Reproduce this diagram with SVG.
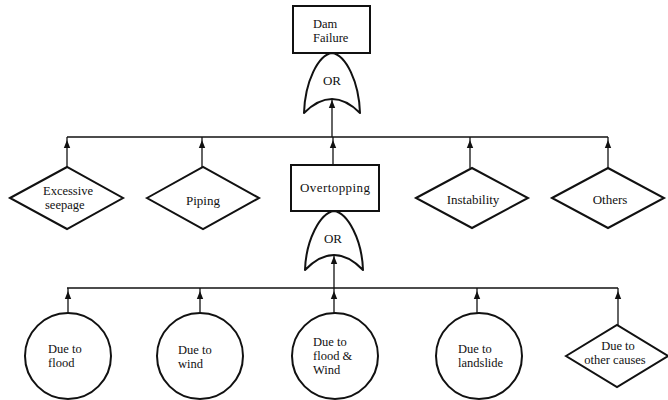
<svg xmlns="http://www.w3.org/2000/svg" width="668" height="400" viewBox="0 0 668 400" font-family="'Liberation Serif', serif">
  <style>
    .shape { fill: #fff; stroke: #111; stroke-width: 2; stroke-linejoin: miter; }
    .gate { fill: #fff; stroke: #111; stroke-width: 2; stroke-linejoin: round; }
    .wire { fill: none; stroke: #111; stroke-width: 1.3; }
    .lbl { font-family: 'Liberation Serif', serif; font-size: 13px; fill: #111; }
    .ml { font-size: 12.5px; }
    .c { text-anchor: middle; }
  </style>
  <defs>
    <marker id="arrow" viewBox="0 0 12 8" refX="12" refY="4" markerWidth="12" markerHeight="8" markerUnits="userSpaceOnUse" orient="auto">
      <path d="M1,0.8 L9,4 L1,7.2 z" fill="#111"/>
    </marker>
  </defs>
  <rect width="668" height="400" fill="#fff"/>

  <!-- connectors -->
  <g id="connectors">
    <path class="wire" d="M67,137 H608"/>
    <path class="wire" d="M67,167 V137" marker-end="url(#arrow)"/>
    <path class="wire" d="M202,167 V137" marker-end="url(#arrow)"/>
    <path class="wire" d="M333,165 V137" marker-end="url(#arrow)"/>
    <path class="wire" d="M470,168 V137" marker-end="url(#arrow)"/>
    <path class="wire" d="M608,168 V137" marker-end="url(#arrow)"/>
    <path class="wire" d="M332,137 V97" marker-end="url(#arrow)"/>

    <path class="wire" d="M67,288 H618"/>
    <path class="wire" d="M68,313 V288" marker-end="url(#arrow)"/>
    <path class="wire" d="M200,313 V288" marker-end="url(#arrow)"/>
    <path class="wire" d="M334,313 V288" marker-end="url(#arrow)"/>
    <path class="wire" d="M477,313 V288" marker-end="url(#arrow)"/>
    <path class="wire" d="M618,325 V288" marker-end="url(#arrow)"/>
    <path class="wire" d="M334,288 V253" marker-end="url(#arrow)"/>
  </g>

  <!-- top event -->
  <g id="dam-failure">
    <rect class="shape" x="293" y="6" width="77" height="47"/>
    <text class="lbl ml" x="313" y="28">Dam<tspan x="313" dy="14">Failure</tspan></text>
  </g>
  <g id="or-gate-1">
    <path class="gate" d="M332,53 C318,55 305,82 304,113 Q332,85 360,113 C359,82 346,55 332,53 Z"/>
    <text class="lbl c" x="332" y="85">OR</text>
  </g>

  <!-- second level -->
  <g id="excessive-seepage">
    <polygon class="shape" points="10,198 67,167 123,198 67,229"/>
    <text class="lbl ml" x="43" y="195">Excessive<tspan x="45" dy="14">seepage</tspan></text>
  </g>
  <g id="piping">
    <polygon class="shape" points="147,198 203,167 259,198 203,229"/>
    <text class="lbl c" x="203" y="205">Piping</text>
  </g>
  <g id="overtopping">
    <rect class="shape" x="291" y="165" width="88" height="46"/>
    <text class="lbl c" x="335" y="192" textLength="70">Overtopping</text>
  </g>
  <g id="instability">
    <polygon class="shape" points="416,198 472,168 528,198 472,228"/>
    <text class="lbl c" x="473" y="204">Instability</text>
  </g>
  <g id="others">
    <polygon class="shape" points="552,198 608,168 664,198 608,228"/>
    <text class="lbl c" x="610" y="204">Others</text>
  </g>
  <g id="or-gate-2">
    <path class="gate" d="M334,211 C320,213 306,240 305,270 Q334,240 363,270 C362,240 348,213 334,211 Z"/>
    <text class="lbl c" x="333" y="243">OR</text>
  </g>

  <!-- basic events -->
  <g id="due-to-flood">
    <circle class="shape" cx="68" cy="356" r="43"/>
    <text class="lbl ml" x="48" y="353">Due to<tspan x="48" dy="14">flood</tspan></text>
  </g>
  <g id="due-to-wind">
    <circle class="shape" cx="200" cy="356" r="43"/>
    <text class="lbl ml" x="178" y="354">Due to<tspan x="178" dy="14">wind</tspan></text>
  </g>
  <g id="due-to-flood-and-wind">
    <circle class="shape" cx="335" cy="356" r="43"/>
    <text class="lbl ml" x="313" y="346">Due to<tspan x="313" dy="14">flood &amp;</tspan><tspan x="313" dy="14">Wind</tspan></text>
  </g>
  <g id="due-to-landslide">
    <circle class="shape" cx="479" cy="356" r="43"/>
    <text class="lbl ml" x="458" y="353">Due to<tspan x="458" dy="14">landslide</tspan></text>
  </g>
  <g id="due-to-other-causes">
    <polygon class="shape" points="566,356 617,325 668,356 617,387"/>
    <text class="lbl ml c" x="618" y="350">Due to<tspan x="615" dy="14">other causes</tspan></text>
  </g>
</svg>
